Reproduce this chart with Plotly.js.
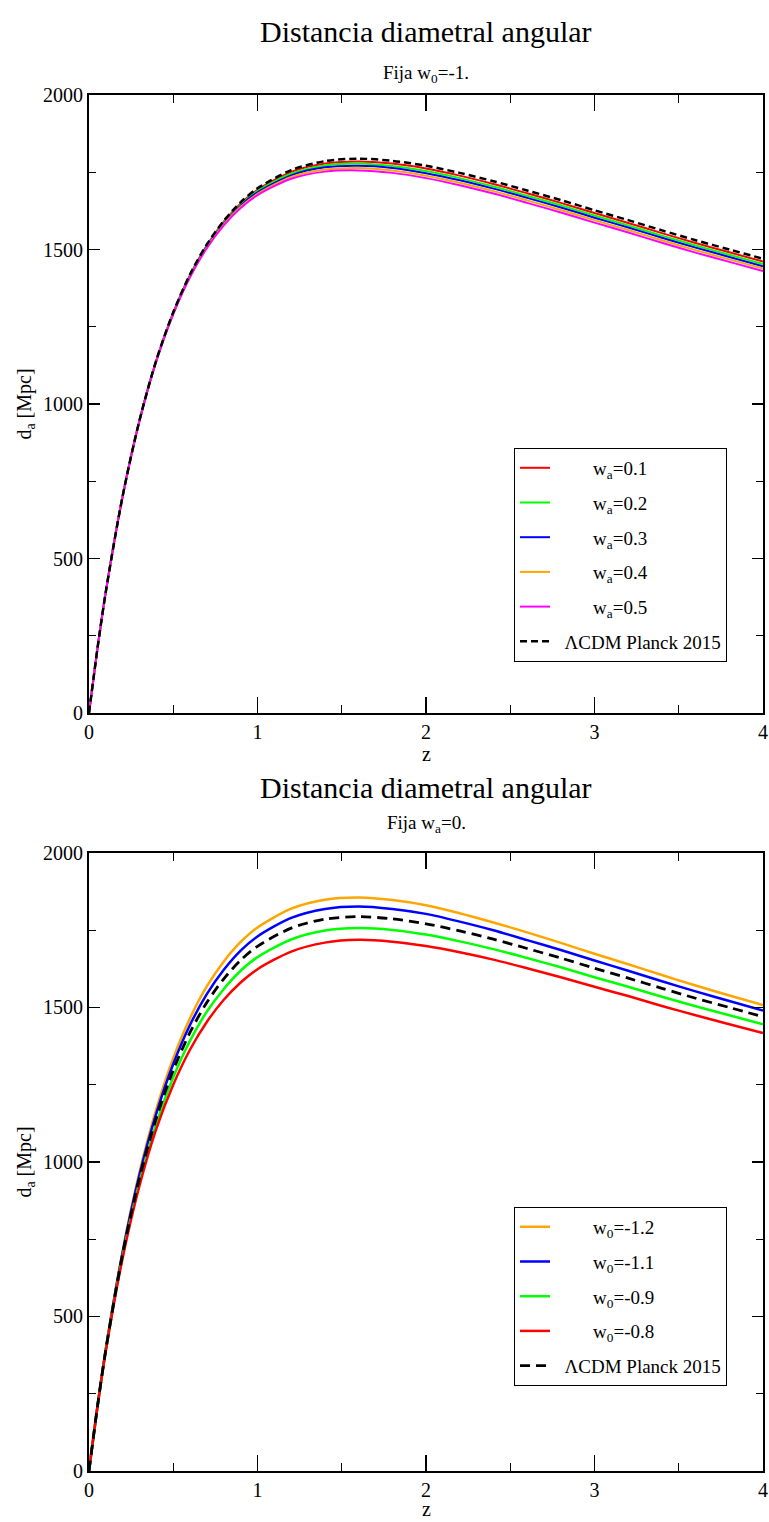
<!DOCTYPE html>
<html>
<head>
<meta charset="utf-8">
<script src="https://cdn.plot.ly/plotly-3.0.1.min.js"></script>
<style>body{margin:0;background:#fff}#chart{width:769px;height:1522px}</style>
</head>
<body>
<div id="chart"></div>
<script>
// redshift grid
const z = [0,0.05,0.1,0.2,0.3,0.4,0.5,0.6,0.7,0.8,0.9,1.0,1.2,1.4,1.6,1.8,2.0,2.2,2.4,2.6,2.8,3.0,3.2,3.4,3.6,3.8,4.0];
// ΛCDM Planck 2015 angular diameter distance [Mpc]
const lcdm = [0,208,393,703,948,1143,1297,1420,1517,1593,1653,1698,1757,1786,1794,1787,1771,1748,1721,1691,1660,1627,1595,1562,1530,1500,1470];
// top panel: fixed w0 = -1, varying wa
const wa01 = [0,208,393,703,948,1142,1296,1418,1514,1590,1649,1693,1751,1778,1785,1778,1762,1739,1712,1682,1651,1618,1586,1553,1521,1491,1461];
const wa02 = [0,208,393,703,947,1141,1294,1416,1512,1587,1645,1689,1745,1772,1778,1770,1754,1731,1704,1674,1643,1610,1578,1545,1513,1483,1453];
const wa03 = [0,208,393,702,947,1141,1293,1415,1510,1584,1642,1685,1740,1766,1771,1764,1747,1724,1697,1667,1636,1603,1571,1538,1506,1476,1446];
const wa04 = [0,208,393,702,946,1140,1292,1413,1507,1581,1638,1680,1735,1759,1764,1756,1739,1716,1689,1659,1628,1595,1563,1530,1498,1468,1438];
const wa05 = [0,208,393,702,946,1139,1291,1411,1505,1578,1634,1676,1729,1752,1756,1748,1731,1708,1681,1651,1620,1587,1555,1522,1490,1460,1430];
// bottom panel: fixed wa = 0, varying w0
const w0m12 = [0,209,396,714,968,1172,1336,1466,1569,1649,1712,1759,1820,1849,1856,1848,1831,1805,1775,1743,1709,1674,1640,1605,1571,1539,1508];
const w0m11 = [0,208,395,709,959,1158,1317,1444,1544,1622,1684,1730,1790,1819,1827,1819,1803,1778,1750,1718,1686,1652,1619,1585,1552,1521,1490];
const w0m09 = [0,207,391,697,936,1126,1274,1393,1487,1560,1619,1663,1720,1749,1757,1751,1736,1714,1689,1660,1630,1598,1567,1535,1504,1475,1446];
const w0m08 = [0,207,389,690,924,1108,1250,1364,1454,1525,1581,1624,1681,1710,1719,1713,1699,1679,1655,1627,1598,1567,1537,1505,1475,1446,1417];

const topNames = ['w<sub>a</sub>=0.1','w<sub>a</sub>=0.2','w<sub>a</sub>=0.3','w<sub>a</sub>=0.4','w<sub>a</sub>=0.5'];
const botNames = ['w<sub>0</sub>=-1.2','w<sub>0</sub>=-1.1','w<sub>0</sub>=-0.9','w<sub>0</sub>=-0.8'];
const lcdmName = 'ΛCDM Planck 2015';
const xTicks = [0,1,2,3,4];
const yTicks = [0,500,1000,1500,2000];

const FONT = 'Liberation Serif';
const IND = '\u00a0'.repeat(8);
const IND2 = '\u00a0'.repeat(2);

const traces = [];
const topSeries = [wa01, wa02, wa03, wa04, wa05];
const topColors = ['#ff0000','#00ff00','#0000ff','#ffa500','#ff00ff'];
topSeries.forEach((s,i)=>{
  traces.push({x:z, y:s, type:'scatter', mode:'lines', name:IND+topNames[i],
    line:{color:topColors[i], width:2, shape:'spline', smoothing:0.8},
    xaxis:'x', yaxis:'y', legend:'legend', legendgroup:'t'+i});
});
traces.push({x:z, y:lcdm, type:'scatter', mode:'lines', name:IND2+lcdmName,
  line:{color:'#000', width:2.5, dash:'7px,4px', shape:'spline', smoothing:0.8},
  xaxis:'x', yaxis:'y', legend:'legend', legendgroup:'t5'});

const botSeries = [w0m12, w0m11, w0m09, w0m08];
const botColors = ['#ffa500','#0000ff','#00ff00','#ff0000'];
botSeries.forEach((s,i)=>{
  traces.push({x:z, y:s, type:'scatter', mode:'lines', name:IND+botNames[i],
    line:{color:botColors[i], width:2.5, shape:'spline', smoothing:0.8},
    xaxis:'x2', yaxis:'y2', legend:'legend2', legendgroup:'b'+i});
});
traces.push({x:z, y:lcdm, type:'scatter', mode:'lines', name:IND2+lcdmName,
  line:{color:'#000', width:2.8, dash:'10px,6px', shape:'spline', smoothing:0.8},
  xaxis:'x2', yaxis:'y2', legend:'legend2', legendgroup:'b4'});

function xax(anchor){
  return {anchor:anchor, domain:[0,1], range:[0,4], tickmode:'array', tickvals:xTicks,
    ticks:'inside', ticklen:16, tickwidth:1.2, tickcolor:'#000',
    minor:{dtick:0.5, tick0:0, ticks:'inside', ticklen:8, tickwidth:1, tickcolor:'#000'},
    showline:true, linewidth:2, linecolor:'#000', mirror:'allticks',
    showgrid:false, zeroline:false,
    tickfont:{family:FONT, size:20, color:'#000'}};
}
function yax(anchor, dom){
  return {anchor:anchor, domain:dom, range:[0,2000], tickmode:'array', tickvals:yTicks,
    ticks:'inside', ticklen:11, tickwidth:1.2, tickcolor:'#000',
    minor:{dtick:250, tick0:0, ticks:'inside', ticklen:7, tickwidth:1, tickcolor:'#000'},
    showline:true, linewidth:2, linecolor:'#000', mirror:'allticks',
    showgrid:false, zeroline:false,
    tickfont:{family:FONT, size:20, color:'#000'},
    title:{text:'d<sub>a</sub> [Mpc]', font:{family:FONT, size:20, color:'#000'}, standoff:6}};
}
const legendStyle = (y)=>({x:0.6306, y:y, xanchor:'left', yanchor:'top', bgcolor:'#fff',
  bordercolor:'#000', borderwidth:1, font:{family:FONT, size:19, color:'#000'},
  tracegroupgap:7, itemwidth:30, traceorder:'grouped'});

const ann = (text, y, size, anchor) => ({text:text, xref:'paper', yref:'paper', x:0.5, y:y,
  xanchor:'center', yanchor:anchor, showarrow:false, font:{family:FONT, size:size, color:'#000'}});

const layout = {
  width:769, height:1522, paper_bgcolor:'#fff', plot_bgcolor:'#fff',
  margin:{l:89, r:6, t:95, b:51},
  showlegend:true,
  xaxis:xax('y'), yaxis:yax('x',[0.55087,1]),
  xaxis2:xax('y2'), yaxis2:yax('x2',[0,0.44913]),
  legend:legendStyle(0.7435),
  legend2:legendStyle(0.1919),
  annotations:[
    ann('Distancia diametral angular', 1.0465, 30, 'middle'),
    ann('Fija w<sub>0</sub>=-1.', 1.0155, 19, 'middle'),
    ann('z', 0.5305, 20, 'top'),
    ann('Distancia diametral angular', 0.4965, 30, 'middle'),
    ann('Fija w<sub>a</sub>=0.', 0.4705, 19, 'middle'),
    ann('z', -0.0371, 20, 'bottom')
  ]
};
Plotly.newPlot('chart', traces, layout, {staticPlot:true, displayModeBar:false});
</script>
</body>
</html>
